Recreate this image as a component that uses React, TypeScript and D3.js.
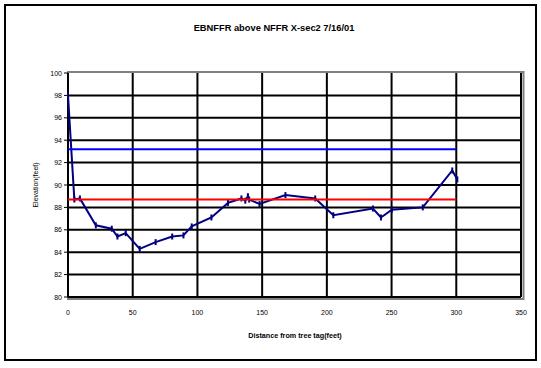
import React from "react";
import * as d3 from "d3";

const title = "EBNFFR above NFFR X-sec2 7/16/01";
const xLabel = "Distance from tree tag(feet)";
const yLabel = "Elevation(feet)";

const distance = [0, 4.9, 9.2, 21.5, 33.8, 38.2, 44.6, 55.4, 67.7, 80.5, 89.2, 95.6, 110.8, 123.6, 134, 137, 139, 140, 148, 168, 191, 205, 235.6, 241.8, 250.2, 274.1, 296.9, 300.8];
const elevation = [98.0, 88.7, 88.8, 86.4, 86.1, 85.4, 85.7, 84.3, 84.9, 85.4, 85.5, 86.3, 87.1, 88.4, 88.8, 88.6, 89.0, 88.7, 88.3, 89.1, 88.8, 87.3, 87.9, 87.1, 87.8, 88.0, 91.3, 90.5];

const blueLineX = [0, 300];
const blueLineY = [93.2, 93.2];
const redLineX = [0, 300];
const redLineY = [88.7, 88.7];

const xTicks = [0, 50, 100, 150, 200, 250, 300, 350];
const yTicks = [80, 82, 84, 86, 88, 90, 92, 94, 96, 98, 100];

export default function App() {
  const W = 541, H = 368;
  const x = d3.scaleLinear().domain([0, 350]).range([68, 521]);
  const y = d3.scaleLinear().domain([80, 100]).range([297, 73]);
  const pts: [number, number][] = distance.map((d, i) => [d, elevation[i]]);
  const line = d3.line<[number, number]>().x(d => x(d[0])).y(d => y(d[1]));
  const font = "'Liberation Sans', Arial, sans-serif";
  return (
    <svg width={W} height={H} style={{ position: "absolute", left: 0, top: 0 }}>
      <rect x={0} y={0} width={W} height={H} fill="#fff" />
      <rect x={5} y={5} width={531} height={355} fill="#fff" stroke="#000" strokeWidth={2} />
      <text x={274} y={31} textAnchor="middle" fontFamily={font} fontSize={9.3} fontWeight="bold">{title}</text>
      <rect x={x(0)} y={y(100) - 1} width={x(350) - x(0) + 2.5} height={y(80) - y(100) + 3} fill="#fff" stroke="#808080" strokeWidth={2} />
      {yTicks.map(t => (
        <line key={"gy" + t} x1={x(0)} x2={x(350)} y1={y(t)} y2={y(t)} stroke="#000" strokeWidth={t === 100 ? 0 : 2} />
      ))}
      {xTicks.map(t => (
        <line key={"gx" + t} x1={x(t)} x2={x(t)} y1={y(100)} y2={y(80)} stroke="#000" strokeWidth={2} />
      ))}
      {yTicks.map(t => (
        <g key={"ty" + t}>
          <line x1={x(0) - 4} x2={x(0)} y1={y(t)} y2={y(t)} stroke="#000" strokeWidth={1} />
          <text x={x(0) - 6} y={y(t) + 2.5} textAnchor="end" fontFamily={font} fontSize={7}>{t}</text>
        </g>
      ))}
      {xTicks.map(t => (
        <text key={"tx" + t} x={x(t)} y={315} textAnchor="middle" fontFamily={font} fontSize={7}>{t}</text>
      ))}
      <text x={295} y={338} textAnchor="middle" fontFamily={font} fontSize={7.2} fontWeight="bold">{xLabel}</text>
      <text transform={`translate(38,185) rotate(-90)`} textAnchor="middle" fontFamily={font} fontSize={7}>{yLabel}</text>
      <path d={line(pts) || ""} fill="none" stroke="#000080" strokeWidth={2} />
      {pts.map((p, i) => (
        <line key={"m" + i} x1={x(p[0])} x2={x(p[0])} y1={y(p[1]) - 3} y2={y(p[1]) + 3} stroke="#000080" strokeWidth={2} />
      ))}
      <path d={line(blueLineX.map((d, i) => [d, blueLineY[i]] as [number, number])) || ""} fill="none" stroke="#0000FF" strokeWidth={2} />
      <path d={line(redLineX.map((d, i) => [d, redLineY[i]] as [number, number])) || ""} fill="none" stroke="#FF0000" strokeWidth={2} />
    </svg>
  );
}
